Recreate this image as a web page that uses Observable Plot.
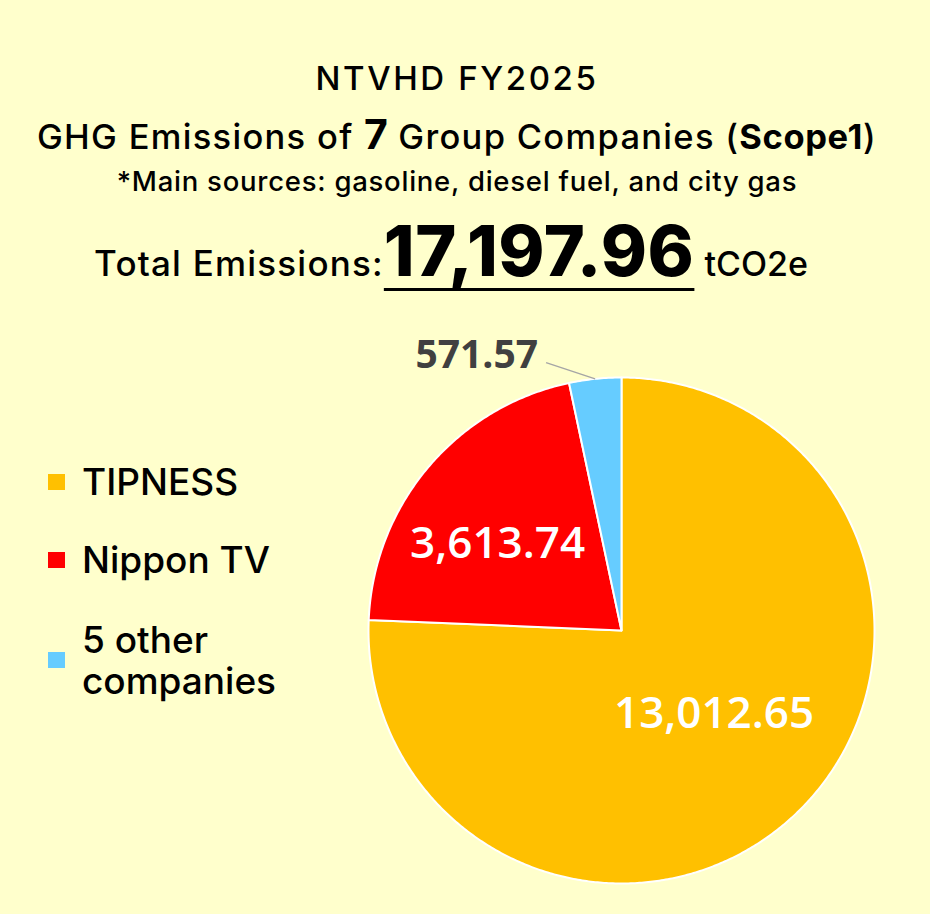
<!DOCTYPE html>
<html>
<head>
<meta charset="utf-8">
<script src="https://cdn.jsdelivr.net/npm/d3@7"></script>
<script src="https://cdn.jsdelivr.net/npm/@observablehq/plot@0.6"></script>
<style>
  html, body { margin: 0; padding: 0; background: #FFFFCC; }
  #wrap { position: relative; width: 930px; height: 914px; background: #FFFFCC; overflow: hidden;
          font-family: Inter, "Noto Sans", sans-serif; color: #000; }
  #chart { position: absolute; left: 0; top: 0; }
  .line { position: absolute; left: 0; width: 914px; text-align: center; white-space: nowrap; line-height: 1; }
  #t1 { top: 61.5px; font-size: 33px; font-weight: 500; letter-spacing: 2.6px; }
  #t2 { top: 120px; font-size: 34.5px; font-weight: 500; letter-spacing: 1.3px; }
  #t2 .big { font-size: 41px; font-weight: 700; line-height: 0; letter-spacing: 0; }
  #t2 .b { font-weight: 700; letter-spacing: 0.6px; }
  #t3 { top: 168px; font-size: 27.5px; font-weight: 500; letter-spacing: 0.75px; }
  #t4 { top: 216px; width: 902px; display: flex; justify-content: center; align-items: baseline; }
  #t4 .lab { font-size: 35px; font-weight: 500; letter-spacing: 1.2px; }
  #t4 .num { font-size: 70px; font-weight: 800; letter-spacing: 0.5px; margin-left: 0px;
             text-decoration: underline; text-decoration-thickness: 3px; text-underline-offset: 12px;
             text-decoration-skip-ink: none; }
  #t4 .unit { font-size: 34px; font-weight: 500; margin-left: 10px; }
  #legend { position: absolute; left: 48px; top: 0; }
  .item { position: absolute; left: 0; display: flex; align-items: center; width: 280px; }
  .sw { width: 17px; height: 16px; flex: none; }
  .txt { margin-left: 17px; font-size: 37px; font-weight: 500; line-height: 41px; width: 225px; }
</style>
</head>
<body>
<div id="wrap">
  <div id="chart"></div>
  <div class="line" id="t1"></div>
  <div class="line" id="t2"></div>
  <div class="line" id="t3"></div>
  <div class="line" id="t4"></div>
  <div id="legend"></div>
</div>
<script>
// ---- data ----
const companies = ["TIPNESS", "Nippon TV", "5 other companies"];
const emissions = [13012.65, 3613.74, 571.57];
const sliceColors = ["#FFC000", "#FF0000", "#66CCFF"];
const totalEmissions = 17197.96;
const groupCount = 7;
const titleText = "NTVHD FY2025";
const noteText = "*Main sources: gasoline, diesel fuel, and city gas";

// ---- header ----
const fmt = d3.format(",.2f");
document.getElementById("t1").textContent = titleText;
document.getElementById("t2").innerHTML =
  `GHG Emissions of <span class="big">${groupCount}</span> Group Companies (<span class="b">Scope1</span>)`;
document.getElementById("t3").textContent = noteText;
document.getElementById("t4").innerHTML =
  `<span class="lab">Total Emissions:</span><span class="num">${fmt(totalEmissions)}</span><span class="unit">tCO2e</span>`;

// ---- legend ----
const legendTops = [461, 539, 619];
const legend = document.getElementById("legend");
companies.forEach((c, i) => {
  const it = document.createElement("div");
  it.className = "item";
  it.style.top = legendTops[i] + "px";
  it.innerHTML = `<div class="sw" style="background:${sliceColors[i]}"></div><div class="txt">${c}</div>`;
  legend.appendChild(it);
});

// ---- pie geometry from the values ----
const table = companies.map((c, i) => ({company: c, value: emissions[i]}));
const arcs = d3.pie().sort(null).value(d => d.value)(table);
const slices = arcs.map(a => {
  const n = Math.max(4, Math.ceil((a.endAngle - a.startAngle) / (Math.PI / 360)));
  const ring = [[0, 0]];
  for (let i = 0; i <= n; i++) {
    const t = a.startAngle + (a.endAngle - a.startAngle) * i / n;
    ring.push([Math.sin(t), Math.cos(t)]);
  }
  ring.push([0, 0]);
  return {type: "Feature", properties: {company: a.data.company},
          geometry: {type: "Polygon", coordinates: [ring]}};
});
const mid = a => (a.startAngle + a.endAngle) / 2;
const polar = (r, t) => [r * Math.sin(t), r * Math.cos(t)];

// label placement (style): radius fraction + pixel nudges
const inside = [
  {i: 0, r: 0.5, dx: 5, dy: -8},
  {i: 1, r: 0.6, dx: -8, dy: 11}
].map(p => {
  const [x, y] = polar(p.r, mid(arcs[p.i]));
  return {x, y, text: fmt(arcs[p.i].data.value), dx: p.dx, dy: p.dy};
});
const smallArc = arcs[2];
const [lx1, ly1] = polar(1.0, mid(smallArc));
const [lx2, ly2] = polar(1.10, mid(smallArc) - 0.17);
const leader = [{x1: lx1, y1: ly1, x2: lx2, y2: ly2}];
const outside = [{x: lx2, y: ly2, text: fmt(smallArc.data.value)}];

const chart = Plot.plot({
  width: 930, height: 914,
  marginLeft: 366, marginRight: 54, marginTop: 377, marginBottom: 31,
  projection: {type: "reflect-y", clip: false,
               domain: {type: "MultiPoint", coordinates: [[-1, -1], [1, 1]]}},
  color: {domain: companies, range: sliceColors},
  style: {background: "transparent", overflow: "visible"},
  marks: [
    Plot.geo(slices, {fill: d => d.properties.company, stroke: "white", strokeWidth: 2, strokeLinejoin: "round"}),
    Plot.link(leader, {x1: "x1", y1: "y1", x2: "x2", y2: "y2", stroke: "#A6A6A6", strokeWidth: 1.5}),
    ...inside.map(d => Plot.text([d], {x: "x", y: "y", text: "text", dx: d.dx, dy: d.dy,
      fill: "white", fontSize: 44, fontWeight: 600, fontFamily: "Open Sans"})),
    Plot.text(outside, {x: "x", y: "y", text: "text", dx: -8, dy: -7, textAnchor: "end",
      fill: "#404040", fontSize: 39, fontWeight: 700, fontFamily: "Open Sans"})
  ]
});
document.getElementById("chart").appendChild(chart);
</script>
</body>
</html>
